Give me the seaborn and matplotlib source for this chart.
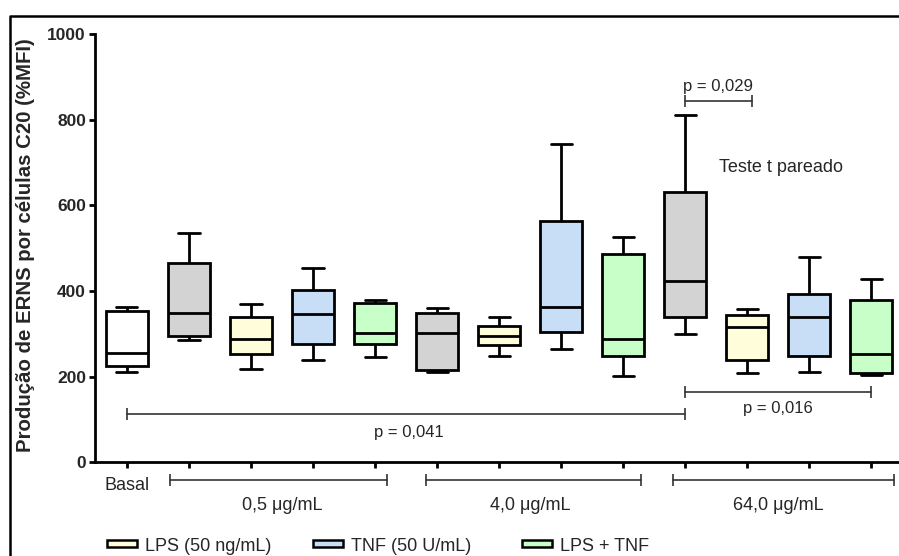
import numpy as np
import pandas as pd
import matplotlib
matplotlib.use("Agg")
import matplotlib.pyplot as plt
from matplotlib.patches import Rectangle
from matplotlib.lines import Line2D
import seaborn as sns

# 13 boxes: Basal + 3 concentrations x (extract, LPS, TNF, LPS+TNF)
boxes = ["Basal",
         "0,5 Ext", "0,5 LPS", "0,5 TNF", "0,5 LPS+TNF",
         "4,0 Ext", "4,0 LPS", "4,0 TNF", "4,0 LPS+TNF",
         "64,0 Ext", "64,0 LPS", "64,0 TNF", "64,0 LPS+TNF"]
# five-number summaries (min, Q1, median, Q3, max)
mins = [210, 286, 219, 238, 247, 210, 248, 264, 201, 299, 209, 211, 204]
q1s = [225, 295, 252, 277, 276, 216, 273, 305, 248, 339, 239, 248, 209]
medians = [256, 348, 287, 347, 302, 301, 296, 362, 289, 424, 316, 340, 252]
q3s = [353, 465, 340, 403, 371, 349, 319, 564, 486, 632, 344, 393, 380]
maxs = [363, 536, 370, 454, 379, 361, 340, 743, 527, 810, 357, 480, 427]

groups = ["0,5 \u03bcg/mL", "4,0 \u03bcg/mL", "64,0 \u03bcg/mL"]
legend_labels = ["LPS (50 ng/mL)", "TNF (50 U/mL)", "LPS + TNF"]

c_basal = "#FFFFFF"
c_ext = "#D3D3D3"
c_lps = "#FFFDDA"
c_tnf = "#C8DDF6"
c_mix = "#C8FFC8"
palette = [c_basal] + [c_ext, c_lps, c_tnf, c_mix] * 3

# long table, the 5 values give exact quartiles with linear percentiles
rows = []
for i, b in enumerate(boxes):
    for v in (mins[i], q1s[i], medians[i], q3s[i], maxs[i]):
        rows.append({"grupo": b, "valor": v})
df = pd.DataFrame(rows)

sns.set_style("ticks")
plt.rcParams["font.family"] = ["Liberation Sans", "DejaVu Sans"]

fig = plt.figure(figsize=(8.99, 5.56), dpi=100)
ax = fig.add_axes([95 / 899, 1 - 462.3 / 556, (898 - 95) / 899, (462.3 - 34) / 556])

lw = 2.0
sns.boxplot(data=df, x="grupo", y="valor", hue="grupo", order=boxes,
            hue_order=boxes, palette=palette, legend=False, saturation=1,
            whis=(0, 100), width=0.68, linewidth=lw, linecolor="black",
            ax=ax)

ax.set_xlim(-0.515, 12.43)
ax.set_ylim(0, 1000)
ax.set_yticks([0, 200, 400, 600, 800, 1000])
ax.set_xticks(range(len(boxes)))
ax.set_xticklabels(["Basal"] + [""] * 12, fontsize=13)
ax.set_xlabel("")
ax.set_ylabel("Produção de ERNS por células C20 (%MFI)", fontsize=14.7,
              fontweight="bold", va="center")
ax.yaxis.set_label_coords(-0.087, 0.506)
for lab in ax.get_yticklabels():
    lab.set_fontweight("bold")
    lab.set_fontsize(12.5)
ax.tick_params(axis="both", length=4.5, width=2, color="black")
ax.tick_params(axis="y", pad=2)
ax.tick_params(axis="x", pad=6)
sns.despine(ax=ax)
for s in ["left", "bottom"]:
    ax.spines[s].set_linewidth(2)
    ax.spines[s].set_color("black")

# comparison brackets
bcol = "#333333"


def bracket(x0, x1, y, clip=True):
    ax.plot([x0, x1], [y, y], color=bcol, lw=1.2, marker="|",
            markersize=8, markeredgewidth=1.2, clip_on=clip)


bracket(9, 10.07, 843)
ax.text(9.53, 868, "p = 0,029", ha="center", va="baseline", fontsize=12)
ax.text(9.55, 678, "Teste t pareado", ha="left", va="baseline", fontsize=13)
bracket(0, 9, 112)
ax.text(4.55, 60, "p = 0,041", ha="center", va="baseline", fontsize=12)
bracket(9, 12, 165)
ax.text(10.5, 114, "p = 0,016", ha="center", va="baseline", fontsize=12)

# concentration brackets below the axis
group_spans = [(0.69, 4.19), (4.82, 8.29), (8.80, 12.37)]
group_centers = [2.5, 6.5, 10.5]
for (g0, g1), gc, g in zip(group_spans, group_centers, groups):
    bracket(g0, g1, -41.5, clip=False)
    ax.text(gc, -111, g, ha="center", va="baseline", fontsize=13, clip_on=False)

# legend drawn at the bottom edge
leg_x = [107, 313, 522]
leg_colors = [c_lps, c_tnf, c_mix]
for x, c, t in zip(leg_x, leg_colors, legend_labels):
    fig.add_artist(Rectangle((x / 899, (556 - 547) / 556), 30 / 899, 7 / 556,
                             transform=fig.transFigure, facecolor=c,
                             edgecolor="black", lw=1.8))
    fig.text((x + 38) / 899, 5 / 556, t, fontsize=13, va="baseline")

# outer frame (top and left)
fig.add_artist(Line2D([10 / 899, 10 / 899, 1], [0, 1 - 16 / 556, 1 - 16 / 556],
                      transform=fig.transFigure, color="black", lw=1.8))

plt.savefig("out.png", dpi=100)
